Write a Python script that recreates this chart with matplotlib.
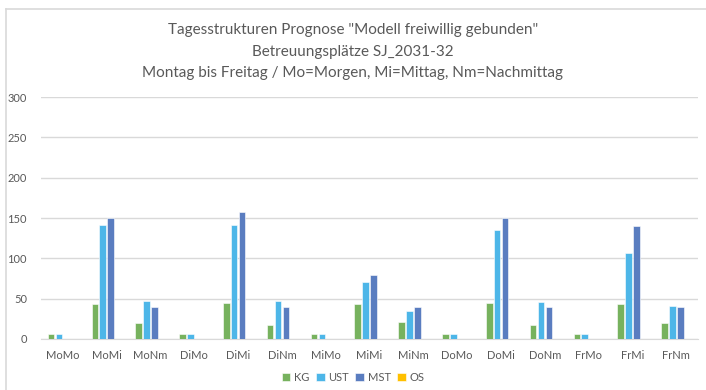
import matplotlib
matplotlib.use("Agg")
import matplotlib.pyplot as plt
from matplotlib.lines import Line2D
import numpy as np

plt.rcParams['font.family'] = ['Lato', 'DejaVu Sans']

# Tagesstrukturen je Tag/Zeitfenster
kategorien = ["MoMo", "MoMi", "MoNm", "DiMo", "DiMi", "DiNm", "MiMo", "MiMi",
              "MiNm", "DoMo", "DoMi", "DoNm", "FrMo", "FrMi", "FrNm"]
kg = [6, 43, 20, 6, 44, 17, 6, 43, 21, 6, 44, 17, 6, 43, 20]
ust = [6, 141, 47, 6, 141, 47, 6, 71, 35, 6, 135, 46, 6, 106, 41]
mst = [0, 150, 40, 0, 158, 40, 0, 79, 40, 0, 150, 40, 0, 140, 40]
os_ = [0, 0, 0, 0, 0, 0, 0, 0, 0, 0, 0, 0, 0, 0, 0]

serien = [("KG", kg, "#77B25E"), ("UST", ust, "#4DB6E8"),
          ("MST", mst, "#5A7DC0"), ("OS", os_, "#FFC000")]

text_farbe = "#595959"
rahmen_farbe = "#D9D9D9"

fig = plt.figure(figsize=(7.06, 3.9), dpi=100)
ax = fig.add_axes([0.058, 0.131, 0.931, 0.62])

# Rahmen des Diagrammbereichs (nur oben und links sichtbar)
fig.add_artist(Line2D([6 / 706, 1.0], [1 - 9 / 390, 1 - 9 / 390],
                      transform=fig.transFigure, color=rahmen_farbe, lw=1.2))
fig.add_artist(Line2D([6 / 706, 6 / 706], [0.0, 1 - 9 / 390],
                      transform=fig.transFigure, color=rahmen_farbe, lw=1.2))

x = np.arange(len(kategorien))
breite = 0.15
abstand = 0.18
for i, (name, werte, farbe) in enumerate(serien):
    ax.bar(x + (i - 1.5) * abstand, werte, width=breite, color=farbe,
           edgecolor="white", linewidth=0.4, label=name, zorder=3)

ax.set_xlim(-0.5, len(kategorien) - 0.5)
ax.set_ylim(0, 300)
ax.set_yticks(range(0, 301, 50))
ax.set_xticks(x)
ax.set_xticklabels(kategorien)
ax.yaxis.grid(True, color=rahmen_farbe, linewidth=1, zorder=0)
ax.tick_params(axis="both", length=0, labelsize=8, colors=text_farbe)
ax.tick_params(axis="x", pad=8)
ax.tick_params(axis="y", pad=10)
for seite in ["top", "right", "left"]:
    ax.spines[seite].set_visible(False)
ax.spines["bottom"].set_color(rahmen_farbe)

fig.text(0.5, 0.94, 'Tagesstrukturen Prognose "Modell freiwillig gebunden"\n'
         'Betreuungsplätze SJ_2031-32\n'
         'Montag bis Freitag / Mo=Morgen, Mi=Mittag, Nm=Nachmittag',
         ha="center", va="top", fontsize=11, color=text_farbe,
         linespacing=1.68)

fig.legend(loc="center", bbox_to_anchor=(0.5, 0.032), ncol=4, frameon=False,
           fontsize=8, handlelength=0.8, handleheight=0.8, handletextpad=0.3,
           columnspacing=0.6, labelcolor=text_farbe)

fig.savefig("out.png", dpi=100)
